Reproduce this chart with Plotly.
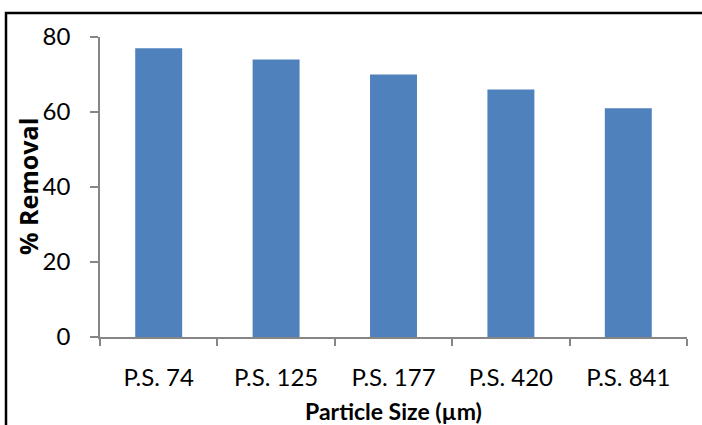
import plotly.graph_objects as go

# Removal efficiency by particle size
categories = ["P.S. 74", "P.S. 125", "P.S. 177", "P.S. 420", "P.S. 841"]
removal = [77, 74, 70, 66, 61]
y_ticks = [0, 20, 40, 60, 80]

W, H = 702, 425
L, R, T, B = 100, 15, 37, 88
pw, ph = W - L - R, H - T - B

def px_x(x):
    return (x - L) / pw

def px_y(y):
    return (H - B - y) / ph

FONT = "Lato"
AXIS_GREY = "#868686"

fig = go.Figure(
    go.Bar(
        x=categories,
        y=removal,
        marker=dict(color="#4F81BD", line=dict(width=0)),
        hoverinfo="x+y",
    )
)

fig.update_layout(
    width=W,
    height=H,
    margin=dict(l=L, r=R, t=T, b=B),
    paper_bgcolor="white",
    plot_bgcolor="white",
    bargap=0.6,
    showlegend=False,
    font=dict(family=FONT, size=24, color="#000000"),
)

fig.update_xaxes(
    showgrid=False,
    showline=True,
    linecolor=AXIS_GREY,
    linewidth=1.5,
    ticks="outside",
    tickson="boundaries",
    ticklen=7,
    tickcolor=AXIS_GREY,
    tickwidth=1.5,
    ticklabelstandoff=18,
    tickfont=dict(family=FONT, size=24),
)

fig.update_yaxes(
    range=[0, 80],
    tickvals=y_ticks,
    showgrid=False,
    zeroline=False,
    showline=True,
    linecolor=AXIS_GREY,
    linewidth=1.5,
    ticks="outside",
    ticklen=8,
    tickcolor=AXIS_GREY,
    tickwidth=1.5,
    ticklabelstandoff=15,
    tickfont=dict(family=FONT, size=24),
)

# Axis titles
fig.add_annotation(
    text="<b>% Removal</b>",
    xref="paper", yref="paper",
    x=px_x(28), y=0.5,
    xanchor="center", yanchor="middle",
    textangle=-90, showarrow=False,
    font=dict(family="Open Sans", size=25, color="#000000"),
)
fig.add_annotation(
    text="<b>Particle Size (µm)</b>",
    xref="paper", yref="paper",
    x=0.5, y=px_y(411),
    xanchor="center", yanchor="middle",
    showarrow=False,
    font=dict(family=FONT, size=23, color="#000000"),
)

# Chart frame
fig.add_shape(
    type="rect",
    xref="paper", yref="paper",
    x0=px_x(6), x1=px_x(720),
    y0=px_y(440), y1=px_y(13),
    line=dict(color="#000000", width=2.5),
    fillcolor="rgba(0,0,0,0)",
    layer="above",
)

fig.write_html("out.html")
